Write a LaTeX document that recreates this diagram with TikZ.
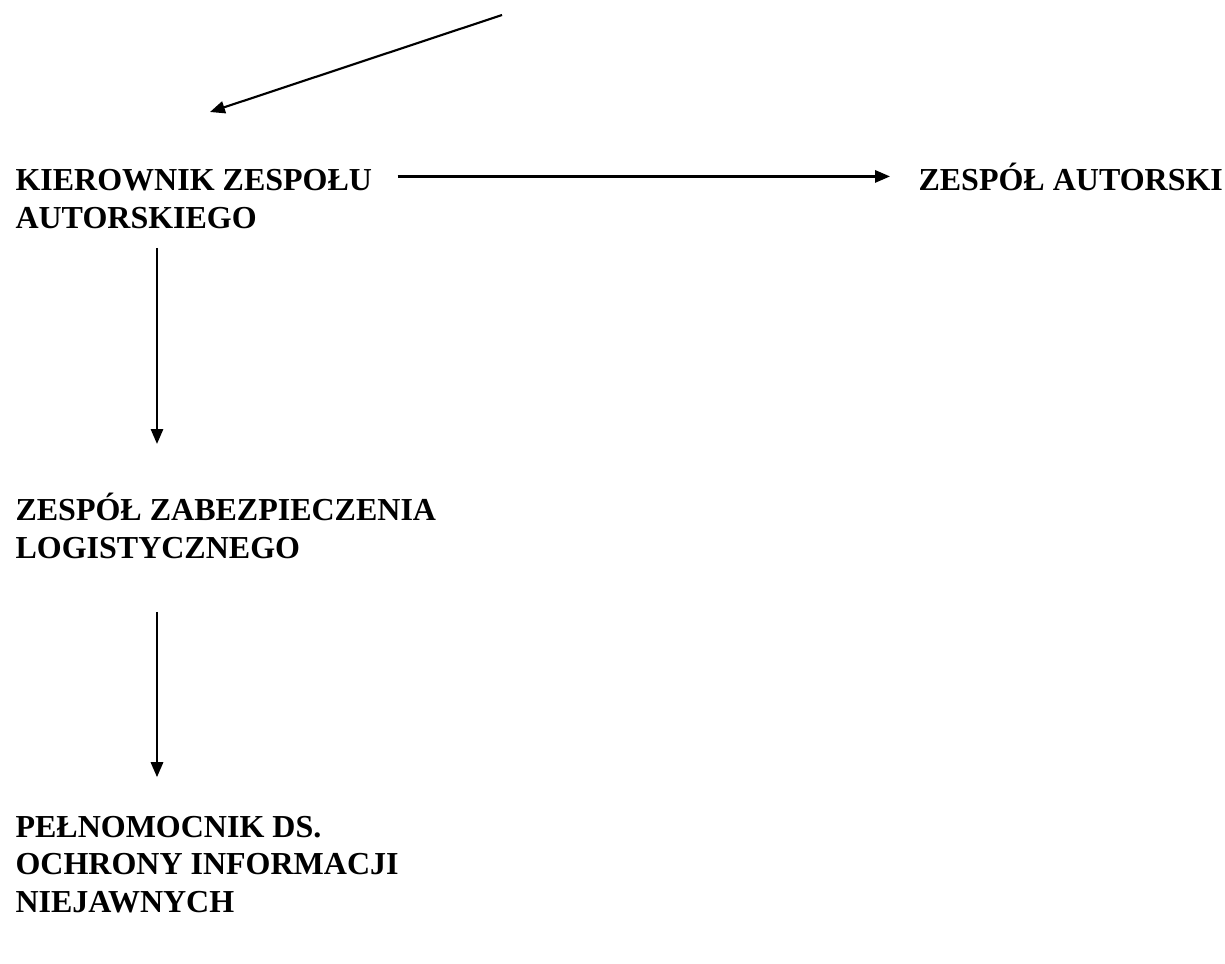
\documentclass[tikz,border=0pt]{standalone}
\usepackage{fontspec}
\setmainfont{Liberation Serif}
\usetikzlibrary{arrows.meta,calc}

\begin{document}
\begin{tikzpicture}[
    x=0.375pt, y=-0.375pt,
    unit/.style={anchor=base west, inner sep=0pt, align=left,
        font=\fontsize{12pt}{13.9pt}\selectfont\bfseries},
    arr/.style={-{Triangle[length=5.6pt,width=4.6pt]}, line width=0.8pt},
]
\useasboundingbox (0,0) rectangle (1225,964);

% Units (base = last line)
\node[unit] (kier) at (15,228) {KIEROWNIK ZESPOŁU\\AUTORSKIEGO};
\node[unit] (autor) at (918,190) {ZESPÓŁ AUTORSKI};
\node[unit] (zab) at (15,558) {ZESPÓŁ ZABEZPIECZENIA\\LOGISTYCZNEGO};
\node[unit] (pel) at (15,912) {PEŁNOMOCNIK DS.\\OCHRONY INFORMACJI\\NIEJAWNYCH};

% Incoming arrow
\coordinate (top) at (502,15);
\coordinate (in) at (210,112);
\draw[arr] (top) -- (in);

% Connections
\draw[arr] ($(kier.east |- autor.west)+(25,0)$) -- ($(autor.west)+(-28,0)$);
\draw[arr] ($(kier.south west)+(142,19)$) -- ($(zab.north west)+(142,-49)$);
\draw[arr] ($(zab.south west)+(142,53)$) -- ($(pel.north west)+(142,-39)$);

\end{tikzpicture}
\end{document}
